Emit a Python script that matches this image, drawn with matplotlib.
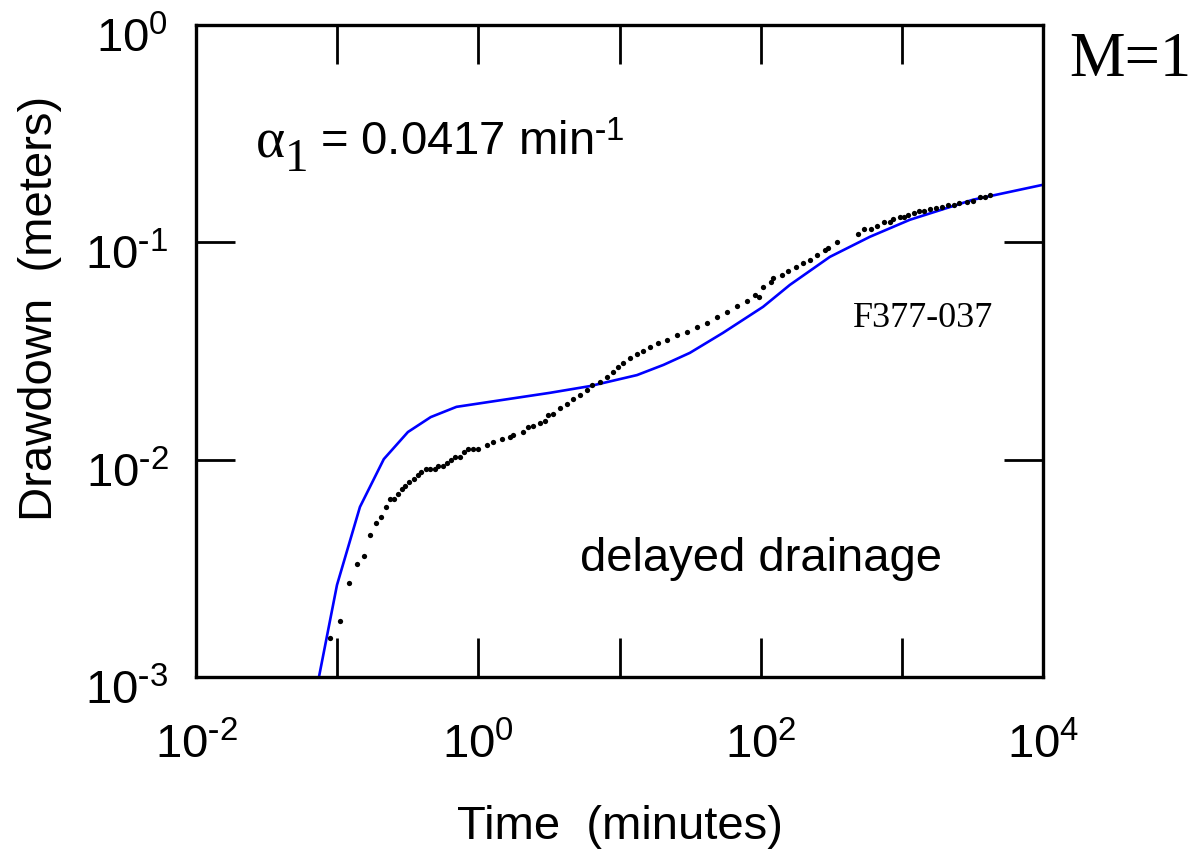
import matplotlib
matplotlib.use('Agg')
import matplotlib.pyplot as plt
import matplotlib.transforms as mtransforms
from matplotlib.ticker import FixedLocator, FuncFormatter, NullLocator
import numpy as np

plt.rcParams['font.family'] = 'Liberation Sans'
plt.rcParams['mathtext.fontset'] = 'custom'
plt.rcParams['mathtext.rm'] = 'Liberation Serif'
plt.rcParams['mathtext.sf'] = 'Liberation Sans'
plt.rcParams['mathtext.it'] = 'Liberation Serif:italic'

# measured drawdown (black dots), time in minutes, drawdown in meters
t_obs = [0.0889, 0.105, 0.122, 0.139, 0.155, 0.171, 0.188, 0.205, 0.223, 0.238,
         0.252, 0.271, 0.288, 0.303, 0.322, 0.348, 0.372, 0.392, 0.425, 0.454,
         0.493, 0.520, 0.558, 0.603, 0.640, 0.682, 0.741, 0.791, 0.847, 0.920,
         0.998, 1.145, 1.275, 1.462, 1.674, 1.767, 2.08, 2.26, 2.45, 2.73,
         2.96, 3.13, 3.39, 3.78, 4.22, 4.70, 5.25, 5.85, 6.34, 7.26,
         8.11, 9.02, 9.79, 10.6, 11.9, 13.2, 14.7, 16.4, 18.8, 21.6,
         25.4, 29.9, 35.2, 41.4, 48.7, 57.4, 67.5, 79.4, 91.0, 97.1,
         104, 119, 123, 141, 157, 179, 200, 223, 249, 285,
         301, 345, 486, 541, 600, 668, 746, 822, 867, 968,
         1033, 1109, 1216, 1327, 1432, 1578, 1741, 1910, 2128, 2335,
         2547, 2872, 3199, 3565, 3872, 4198]
s_obs = [0.00151, 0.00181, 0.00272, 0.00332, 0.00361, 0.00452, 0.00513, 0.00543, 0.00604, 0.00661,
         0.00661, 0.00695, 0.00731, 0.00757, 0.00788, 0.00818, 0.00850, 0.00875, 0.00906, 0.00906,
         0.00906, 0.00935, 0.00937, 0.00969, 0.0100, 0.01026, 0.01033, 0.01085, 0.01117, 0.01124,
         0.01124, 0.01168, 0.01210, 0.01241, 0.01276, 0.01299, 0.01345, 0.01409, 0.01429, 0.01479,
         0.01511, 0.01606, 0.01622, 0.01724, 0.01803, 0.01897, 0.01986, 0.02094, 0.02208, 0.02286,
         0.02411, 0.02542, 0.02680, 0.02777, 0.02928, 0.03065, 0.03174, 0.03311, 0.03455, 0.03555,
         0.03750, 0.03882, 0.04093, 0.04270, 0.04550, 0.04797, 0.05094, 0.05393, 0.05729, 0.05623,
         0.06250, 0.06592, 0.06839, 0.07080, 0.07413, 0.07727, 0.08017, 0.08299, 0.08750, 0.09226,
         0.09397, 0.1007, 0.1093, 0.1148, 0.1148, 0.1190, 0.1245, 0.1245, 0.1276, 0.1305,
         0.1313, 0.1337, 0.1362, 0.1400, 0.1400, 0.1429, 0.1436, 0.1459, 0.1486, 0.1486,
         0.1514, 0.1535, 0.1556, 0.1613, 0.1622, 0.1652]

# fitted delayed-drainage type curve (blue line)
t_fit = [0.0743, 0.0997, 0.145, 0.214, 0.317, 0.46, 0.70, 1.49, 3.21, 6.17,
         13.3, 20.5, 31.5, 54, 104, 161, 309, 593, 1140, 3185, 10000]
s_fit = [0.001, 0.00265, 0.00606, 0.01006, 0.0134, 0.0157, 0.0175, 0.01884, 0.0203, 0.0218,
         0.0245, 0.0273, 0.0310, 0.0383, 0.0505, 0.0637, 0.0857, 0.106, 0.127, 0.157, 0.184]

fig = plt.figure(figsize=(11.94, 8.52), dpi=100)
ax = fig.add_axes([196 / 1194, 1 - 677 / 852, 847 / 1194, 652 / 852])

ax.plot(t_fit, s_fit, color='#0000ff', lw=1.9, zorder=2)
ax.plot(t_obs, s_obs, linestyle='none', marker='o', ms=3.8, color='black',
        markeredgewidth=0, zorder=3)

ax.set_xscale('log')
ax.set_yscale('log')
ax.set_xlim(1e-2, 1e4)
ax.set_ylim(1e-3, 1e0)

ax.xaxis.set_major_locator(FixedLocator([10.0 ** k for k in range(-2, 5)]))
ax.yaxis.set_major_locator(FixedLocator([10.0 ** k for k in range(-3, 1)]))
ax.xaxis.set_minor_locator(NullLocator())
ax.yaxis.set_minor_locator(NullLocator())


def power_label(e):
    # short hyphen in the exponent, like the original
    if e < 0:
        return r'$\mathsf{10^{\text{-}%d}}$' % (-e)
    return r'$\mathsf{10^{%d}}$' % e


def fmt_x(v, pos):
    e = int(round(np.log10(v)))
    if e % 2 != 0:
        return ''
    return power_label(e)


def fmt_y(v, pos):
    return power_label(int(round(np.log10(v))))


ax.xaxis.set_major_formatter(FuncFormatter(fmt_x))
ax.yaxis.set_major_formatter(FuncFormatter(fmt_y))

ax.tick_params(which='major', direction='in', length=28, width=2.0,
               top=True, right=True, labelsize=34)
ax.tick_params(axis='x', pad=33)
ax.tick_params(axis='y', pad=20)

for sp in ax.spines.values():
    sp.set_linewidth(2.4)

# y tick labels sit a little below their ticks in the original
offset = mtransforms.ScaledTranslation(0, -10 / 100, fig.dpi_scale_trans)
for lab in ax.get_yticklabels():
    lab.set_transform(lab.get_transform() + offset)

ax.set_xlabel('Time  (minutes)', fontsize=34, va='top')
ax.xaxis.set_label_coords(0.5, -0.196)
ax.set_ylabel('Drawdown  (meters)', fontsize=34)
ax.yaxis.set_label_coords(-0.158, 0.565)

# annotations
fig.text(256 / 1194, 1 - 157 / 852, '\u03b1', family='Liberation Serif',
         fontsize=40, ha='left', va='baseline')
fig.text(285 / 1194, 1 - 171 / 852, '1', family='Liberation Serif',
         fontsize=34, ha='left', va='baseline')
fig.text(320 / 1194, 1 - 155 / 852, r'= 0.0417 min$^{\mathsf{\text{-}1}}$',
         fontsize=34, ha='left', va='baseline')
fig.text(580 / 1194, 1 - 571 / 852, 'delayed drainage', fontsize=34,
         ha='left', va='baseline')
fig.text(853 / 1194, 1 - 327 / 852, 'F377-037', family='Liberation Serif',
         fontsize=26, ha='left', va='baseline')
fig.text(1069 / 1194, 1 - 76 / 852, 'M=1', family='Liberation Serif',
         fontsize=45, ha='left', va='baseline')

fig.savefig('out.png', dpi=100)
